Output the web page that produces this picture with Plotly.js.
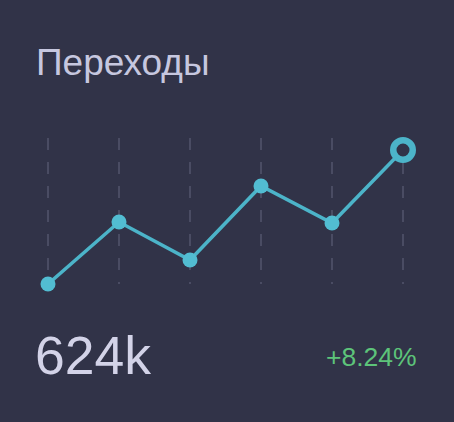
<!DOCTYPE html>
<html>
<head>
<meta charset="utf-8">
<script src="https://cdn.plot.ly/plotly-3.0.1.min.js"></script>
<style>
html,body{margin:0;padding:0;background:#313348;}
#chart{width:454px;height:422px;}
</style>
</head>
<body>
<div id="chart"></div>
<script>
var points = [0, 1, 2, 3, 4, 5];
var values = [490, 552, 514, 588, 551, 624];
var titleText = "Переходы";
var totalText = "624k";
var changeText = "+8.24%";

var bg = "#313348";
var lineColor = "#4cb4c9";
var n = values.length;
var pad = 7 / 71;

var mainTrace = {
  x: points,
  y: values,
  type: "scatter",
  mode: "lines+markers",
  line: {color: lineColor, width: 3.5},
  marker: {
    opacity: 1,
    color: points.map(function(p, i){ return i === n - 1 ? bg : "#52bdd2"; }),
    size: points.map(function(p, i){ return i === n - 1 ? 19.5 : 15; }),
    line: {
      color: lineColor,
      width: points.map(function(p, i){ return i === n - 1 ? 6.5 : 0; })
    }
  },
  cliponaxis: false,
  hoverinfo: "none"
};

function px(X){ return (X - 41) / 369; }
function py(Y){ return (284 - Y) / 146; }

var layout = {
  width: 454,
  height: 422,
  paper_bgcolor: bg,
  plot_bgcolor: bg,
  margin: {l: 41, r: 44, t: 138, b: 138, pad: 0},
  showlegend: false,
  xaxis: {
    range: [-pad, 5 + pad],
    tickvals: points,
    showticklabels: false,
    showgrid: true,
    gridcolor: "#4a4c63",
    gridwidth: 2,
    griddash: "12px,12px",
    zeroline: false,
    showline: false,
    ticks: "",
    fixedrange: true
  },
  yaxis: {
    range: [490, 636],
    showgrid: false,
    showticklabels: false,
    zeroline: false,
    showline: false,
    ticks: "",
    fixedrange: true
  },
  annotations: [
    {
      text: titleText, xref: "paper", yref: "paper",
      x: px(35), y: py(63), xanchor: "left", yanchor: "middle",
      showarrow: false, borderpad: 0,
      font: {family: "Liberation Sans, Arial, sans-serif", size: 37, color: "#c6c7df"}
    },
    {
      text: totalText, xref: "paper", yref: "paper",
      x: px(34), y: py(355), xanchor: "left", yanchor: "middle",
      showarrow: false, borderpad: 0,
      font: {family: "Liberation Sans, Arial, sans-serif", size: 53.5, color: "#d3d3e8"}
    },
    {
      text: changeText, xref: "paper", yref: "paper",
      x: px(418), y: py(356.5), xanchor: "right", yanchor: "middle",
      showarrow: false, borderpad: 0,
      font: {family: "Liberation Sans, Arial, sans-serif", size: 26.5, color: "#5dc47a"}
    }
  ]
};

Plotly.newPlot("chart", [mainTrace], layout, {displayModeBar: false, staticPlot: true});
</script>
</body>
</html>
